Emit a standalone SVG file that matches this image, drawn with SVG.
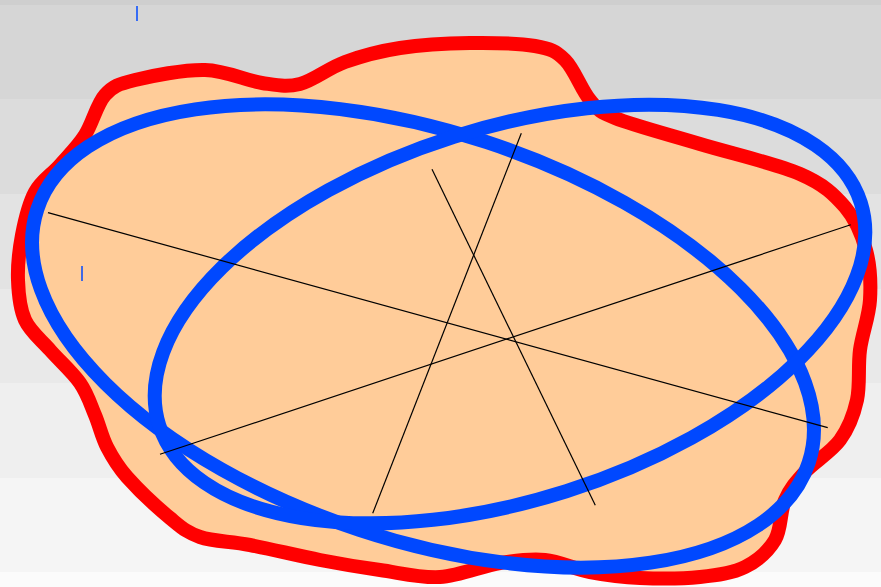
<svg xmlns="http://www.w3.org/2000/svg" width="881" height="587" viewBox="0 0 881 587">
<style>
.blob{fill:#ffcc99;stroke:#ff0000;stroke-width:14;stroke-linejoin:round}
.ell{fill:none;stroke:#0048ff;stroke-width:14}
.axis{stroke:#000;stroke-width:1.2;fill:none}
.tick{stroke:#0048ff;stroke-width:1.5}
</style>
<g id="background">
<rect x="0" y="0" width="881" height="5" fill="#cfcfcf"/>
<rect x="0" y="5" width="881" height="94" fill="#d6d6d6"/>
<rect x="0" y="99" width="881" height="95" fill="#dcdcdc"/>
<rect x="0" y="194" width="881" height="95" fill="#e3e3e3"/>
<rect x="0" y="289" width="881" height="94" fill="#e9e9e9"/>
<rect x="0" y="383" width="881" height="95" fill="#efefef"/>
<rect x="0" y="478" width="881" height="94" fill="#f5f5f5"/>
<rect x="0" y="572" width="881" height="15" fill="#fbfbfb"/>
</g>
<g id="blob">
<path class="blob" d="M135,80 C151.7,75.8 183.8,69.5 205,70 C226.2,70.5 246.2,80.7 262,83 C277.8,85.3 286.2,87.5 300,84 C313.8,80.5 328.3,68 345,62 C361.7,56 379.2,51.2 400,48 C420.8,44.8 447.5,43.3 470,43 C492.5,42.7 519.2,43.2 535,46 C550.8,48.8 555.8,51 565,60 C574.2,69 581.7,90.3 590,100 C598.3,109.7 596.7,110.7 615,118 C633.3,125.3 669.2,134.7 700,144 C730.8,153.3 775.8,163.5 800,174 C824.2,184.5 834,194.3 845,207 C856,219.7 861.8,234.5 866,250 C870.2,265.5 871,283.3 870,300 C869,316.7 862.2,333.3 860,350 C857.8,366.7 860.3,385 857,400 C853.7,415 848.7,428 840,440 C831.3,452 814.2,462 805,472 C795.8,482 790,488.7 785,500 C780,511.3 781.7,528.8 775,540 C768.3,551.2 757.5,560.8 745,567 C732.5,573.2 717.5,575.2 700,577 C682.5,578.8 658.3,578.8 640,578 C621.7,577.2 605.8,575 590,572 C574.2,569 560,561.5 545,560 C530,558.5 517.5,560.2 500,563 C482.5,565.8 460,575.8 440,577 C420,578.2 400,572.8 380,570 C360,567.2 341.7,564.2 320,560 C298.3,555.8 270,548.8 250,545 C230,541.2 213.3,541.5 200,537 C186.7,532.5 182.2,528 170,518 C157.8,508 137.5,488.8 127,477 C116.5,465.2 112.3,457.3 107,447 C101.7,436.7 99.5,425.7 95,415 C90.5,404.3 87.5,393.8 80,383 C72.5,372.2 59.2,360.5 50,350 C40.8,339.5 30.3,331.7 25,320 C19.7,308.3 18.5,294.2 18,280 C17.5,265.8 19.2,249.7 22,235 C24.8,220.3 28.7,203.7 35,192 C41.3,180.3 51.7,174.5 60,165 C68.3,155.5 77.5,146.7 85,135 C92.5,123.3 96.7,104.2 105,95 C113.3,85.8 118.3,84.2 135,80 Z"/>
</g>
<g id="ellipse1">
<ellipse class="ell" cx="423" cy="336" rx="406" ry="204" transform="rotate(18.2 423 336)"/>
</g>
<g id="ellipse2">
<ellipse class="ell" cx="510" cy="314" rx="368" ry="186" transform="rotate(-17.6 510 314)"/>
</g>
<g id="connectors">
<line class="axis" x1="48" y1="212.7" x2="827.7" y2="427.7"/>
<line class="axis" x1="432" y1="169.3" x2="595.3" y2="505.3"/>
<line class="axis" x1="160" y1="454.3" x2="850.7" y2="224.7"/>
<line class="axis" x1="372.7" y1="513.3" x2="521.3" y2="133.3"/>
</g>
<g id="marks">
<line class="tick" x1="137" y1="6" x2="137" y2="21" stroke="#4a78d8"/>
<line class="tick" x1="82" y1="266" x2="82" y2="281"/>
</g>
</svg>
